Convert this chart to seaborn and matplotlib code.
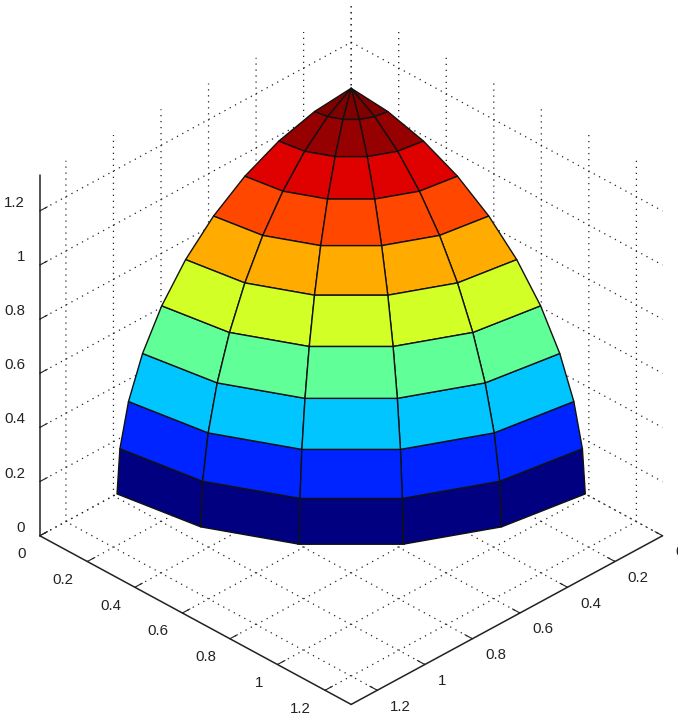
import numpy as np
import matplotlib
matplotlib.use("Agg")
import matplotlib.pyplot as plt
from mpl_toolkits.mplot3d import proj3d
import seaborn as sns

# values
elevation_deg = [0, 9, 18, 27, 36, 45, 54, 63, 72, 81, 90]
azimuth_deg = [0, 18, 36, 54, 72, 90]
radius_xy = 0.985
radius_z = 1.03
tick_values = [0, 0.2, 0.4, 0.6, 0.8, 1, 1.2]
tick_labels = ["0", "0.2", "0.4", "0.6", "0.8", "1", "1.2"]
xy_limit = 1.31
z_limit = 1.333

sns.set_style("white")
plt.rcParams["font.family"] = ["Liberation Sans", "DejaVu Sans"]
plt.rcParams["grid.linestyle"] = (0, (1, 3.8))
plt.rcParams["grid.color"] = "#222222"
plt.rcParams["grid.linewidth"] = 0.9

# ---- surface ----
elev, azim = np.meshgrid(np.radians(elevation_deg), np.radians(azimuth_deg))
x = radius_xy * np.cos(elev) * np.cos(azim)
y = radius_xy * np.cos(elev) * np.sin(azim)
z = radius_z * np.sin(elev)

# each face takes the colour of its lower z value
jet = matplotlib.colormaps["jet"]
colors = jet(z[:-1, :-1])

fig = plt.figure(figsize=(6.78, 7.18), dpi=100)
ax = fig.add_axes([3 / 678, -5.5 / 718, 1, 1], projection="3d", proj_type="ortho")
ax.view_init(elev=32.8, azim=45)
ax.set_box_aspect((xy_limit, xy_limit, 1.277), zoom=1.083)

ax.plot_surface(x, y, z, facecolors=colors, rstride=1, cstride=1,
                shade=False, edgecolor="#111111", linewidth=1.0, antialiased=True)

ax.set_xlim(0, xy_limit, view_margin=0)
ax.set_ylim(0, xy_limit, view_margin=0)
ax.set_zlim(0, z_limit, view_margin=0)

for axis in (ax.xaxis, ax.yaxis, ax.zaxis):
    axis.set_ticks(tick_values)
    axis.set_ticklabels([])
    axis.set_pane_color((1, 1, 1, 0))
    axis.pane.set_edgecolor((1, 1, 1, 0))
    axis.line.set_color("#222222")
    axis.line.set_linewidth(1.1)
    axis._axinfo["tick"]["inward_factor"] = 0.0
    axis._axinfo["tick"]["outward_factor"] = 0.3
    axis._axinfo["tick"]["color"] = "#222222"
ax.tick_params(axis="both", width=1.0, color="#222222")


# ---- tick labels, placed like the original ones ----
def put_label(px, py, pz, label, ha):
    sx, sy, _ = proj3d.proj_transform(px, py, pz, ax.get_proj())
    ax.text2D(sx, sy, label, transform=ax.transData, ha=ha, va="center",
              fontsize=10.8, color="#222222")


for value, label in zip(tick_values, tick_labels):
    put_label(value, xy_limit + 0.054, -0.035, label, "left")
    put_label(xy_limit + 0.058, value, -0.04, label, "right")
    put_label(xy_limit, -0.0625, value, label, "right")

fig.savefig("out.png", dpi=100)
